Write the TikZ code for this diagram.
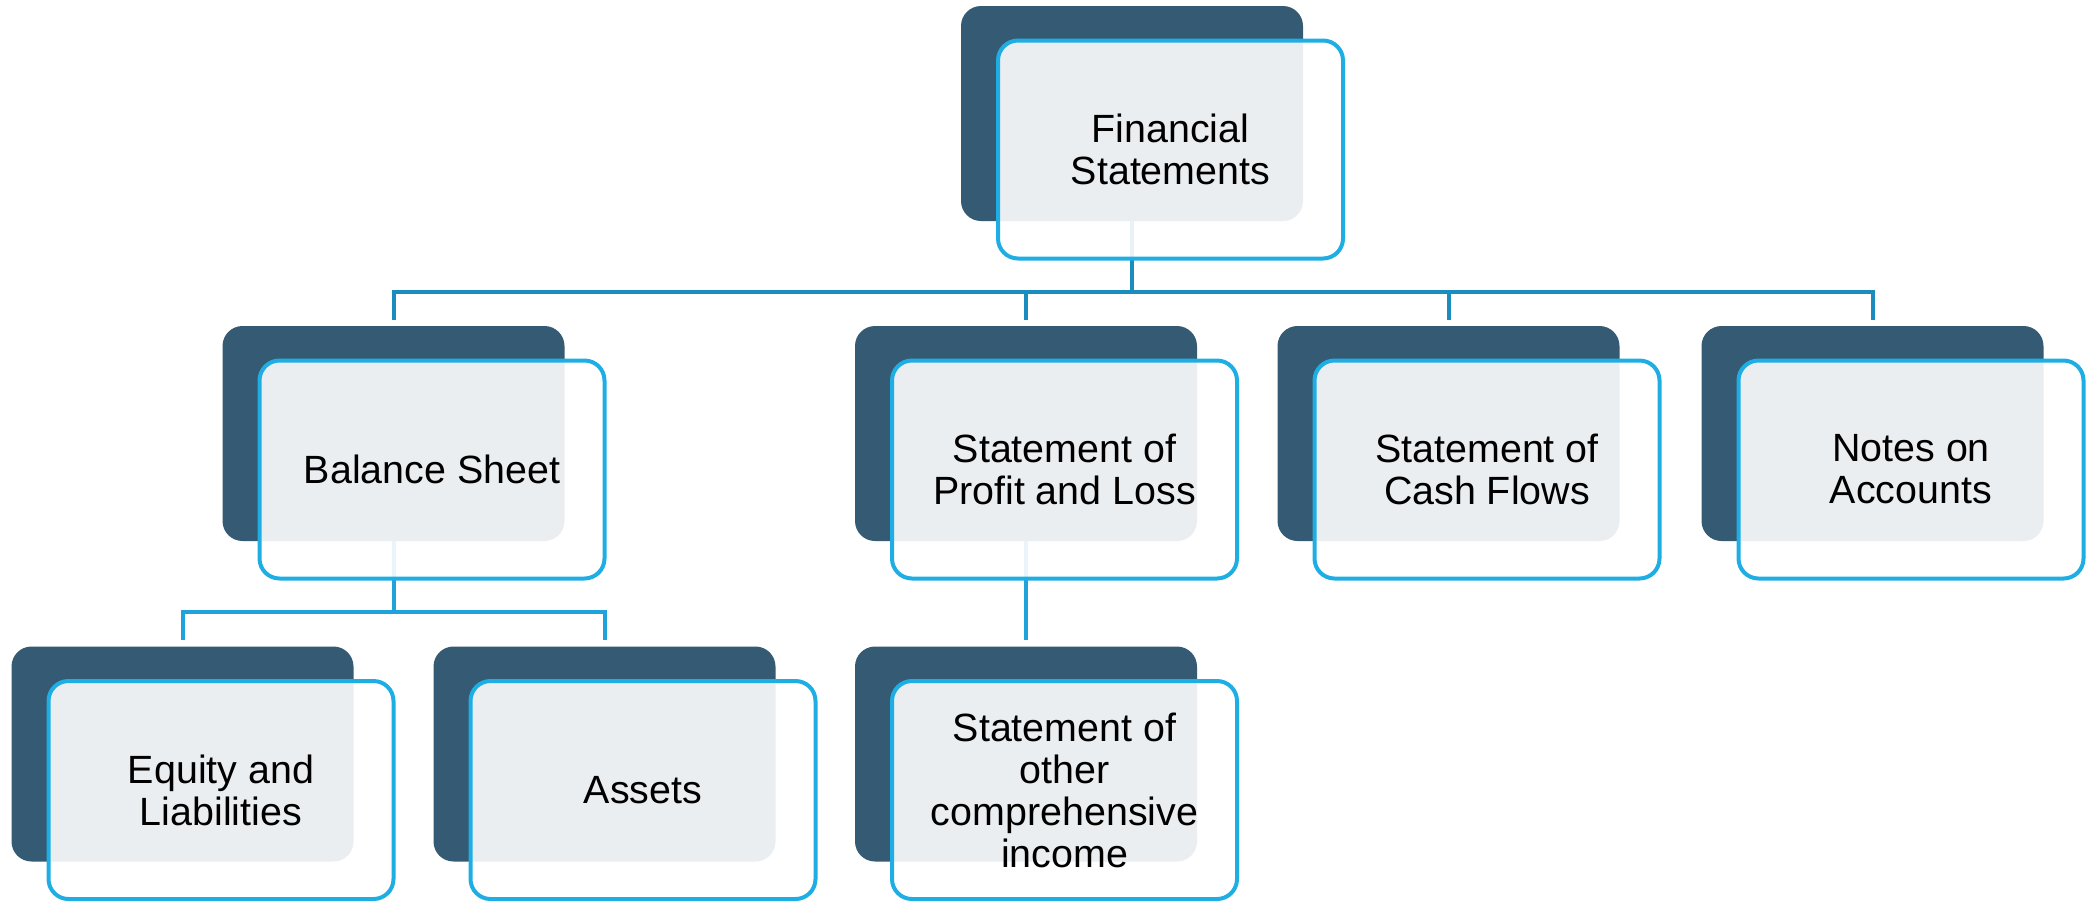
\documentclass[tikz,border=0pt]{standalone}
\usepackage{fontspec}
\setmainfont{Liberation Sans}
\usepackage{tikz}
\definecolor{slate}{HTML}{345B73}
\definecolor{skyline}{HTML}{1FAEE4}
\definecolor{linkdark}{HTML}{1A8CBE}
\definecolor{linklight}{HTML}{1FA3DA}
\tikzset{
  darkcard/.style={rectangle,rounded corners=10pt,fill=slate,draw=none,
    minimum width=171pt,minimum height=107.5pt,inner sep=0pt},
  lightcard/.style={rectangle,rounded corners=10pt,draw=skyline,line width=2pt,
    fill=white,fill opacity=0.9,text opacity=1,
    minimum width=172.5pt,minimum height=109pt,inner sep=0pt,align=center,
    font=\fontsize{19.7}{21}\selectfont},
  toplink/.style={draw=linkdark,line width=2pt},
  sublink/.style={draw=linklight,line width=2pt}
}
\begin{document}
\begin{tikzpicture}[x=0.5pt,y=-0.5pt]
                \useasboundingbox (0,0) rectangle (2088,901);
                \node[darkcard] (fs) at (1132,113.5) {};
                \node[darkcard] (bs) at (393.5,433.5) {};
                \node[darkcard] (pl) at (1026,433.5) {};
                \node[darkcard] (cf) at (1448.5,433.5) {};
                \node[darkcard] (nt) at (1872.5,433.5) {};
                \node[darkcard] (eq) at (182.5,754) {};
                \node[darkcard] (as) at (604.5,754) {};
                \node[darkcard] (oc) at (1026,754) {};

                \coordinate (bus1) at (0,292);
                \coordinate (bus2) at (0,612);
                \draw[toplink] (fs.south) -- (fs.south |- bus1);
                \draw[toplink] ([yshift=3pt]bs.north) -- (bs.north |- bus1) -- (nt.north |- bus1) -- ([yshift=3pt]nt.north);
                \foreach \n in {pl,cf}
                  \draw[toplink] ([yshift=3pt]\n.north) -- (\n.north |- bus1);
                \draw[sublink] (bs.south) -- (bs.south |- bus2);
                \draw[sublink] ([yshift=3pt]eq.north) -- (eq.north |- bus2) -- (as.north |- bus2) -- ([yshift=3pt]as.north);
                \draw[sublink] (pl.south) -- ([yshift=3pt]oc.north);

                \node[lightcard] (fsl) at ([shift={(19.25pt,-18pt)}]fs.center) {Financial\\Statements};
                \node[lightcard] (bsl) at ([shift={(19.25pt,-18pt)}]bs.center) {Balance Sheet};
                \node[lightcard] (pll) at ([shift={(19.25pt,-18pt)}]pl.center) {Statement of\\Profit and Loss};
                \node[lightcard] (cfl) at ([shift={(19.25pt,-18pt)}]cf.center) {Statement of\\Cash Flows};
                \node[lightcard] (ntl) at ([shift={(19.25pt,-18pt)}]nt.center) {Notes on\\Accounts};
                \node[lightcard] (eql) at ([shift={(19.25pt,-18pt)}]eq.center) {Equity and\\Liabilities};
                \node[lightcard] (asl) at ([shift={(19.25pt,-18pt)}]as.center) {Assets};
                \node[lightcard] (ocl) at ([shift={(19.25pt,-18pt)}]oc.center) {Statement of\\other\\comprehensive\\income};
              \end{tikzpicture}
\end{document}
